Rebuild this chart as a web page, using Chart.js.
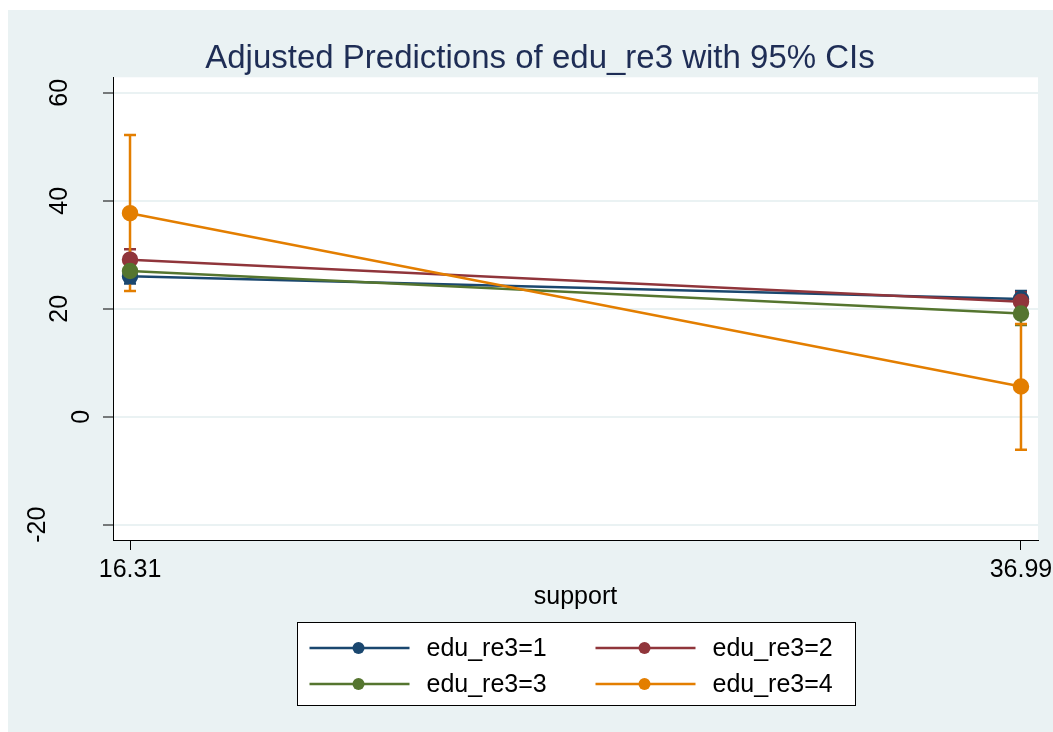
<!DOCTYPE html>
<html lang="en">
<head>
<meta charset="UTF-8">
<title>Adjusted Predictions of edu_re3 with 95% CIs</title>
<script src="https://cdn.jsdelivr.net/npm/chart.js"></script>
<style>
  html, body { margin: 0; padding: 0; background: #fff; }
  #wrap { width: 1053px; height: 732px; }
</style>
</head>
<body>
<div id="wrap"><canvas id="grafico"></canvas></div>
<script>
// valores
const supportVals = [16.31, 36.99];
const xTicks = [16.31, 36.99];
const yTicks = [-20, 0, 20, 40, 60];
const seriesNames = ["edu_re3=1", "edu_re3=2", "edu_re3=3", "edu_re3=4"];

const edu1 = [26.0, 21.8];
const edu1Lo = [24.7, 20.3];
const edu1Hi = [27.4, 23.3];

const edu2 = [29.1, 21.3];
const edu2Lo = [27.2, 19.6];
const edu2Hi = [31.0, 23.0];

const edu3 = [27.0, 19.1];
const edu3Lo = [25.3, 17.0];
const edu3Hi = [28.7, 21.2];

const edu4 = [37.7, 5.6];
const edu4Lo = [23.3, -6.1];
const edu4Hi = [52.2, 17.2];

const values = [edu1, edu2, edu3, edu4];
const lows = [edu1Lo, edu2Lo, edu3Lo, edu4Lo];
const highs = [edu1Hi, edu2Hi, edu3Hi, edu4Hi];
const colors = ["#1a476f", "#90353b", "#55752f", "#e37e00"];

const FONT = '"Liberation Sans", Arial, Helvetica, sans-serif';
Chart.defaults.font.family = FONT;
Chart.defaults.color = "#000";

// fundo cinza-azulado e área do gráfico branca
const fundo = {
  id: "fundo",
  beforeDraw(chart) {
    const { ctx, width, height, chartArea: a } = chart;
    ctx.save();
    ctx.fillStyle = "#ffffff";
    ctx.fillRect(0, 0, width, height);
    ctx.fillStyle = "#eaf2f3";
    ctx.fillRect(8, 10, width - 8, height - 10);
    ctx.fillStyle = "#ffffff";
    ctx.fillRect(a.left, a.top, a.right - a.left, a.bottom - a.top);
    ctx.restore();
  }
};

// intervalos de confiança (desenhados por baixo das linhas)
const intervalos = {
  id: "intervalos",
  beforeDatasetsDraw(chart) {
    const { ctx } = chart;
    const xs = chart.scales.x, ys = chart.scales.y;
    ctx.save();
    ctx.lineWidth = 2.5;
    for (let i = 0; i < values.length; i++) {
      ctx.strokeStyle = colors[i];
      for (let j = 0; j < supportVals.length; j++) {
        const px = xs.getPixelForValue(supportVals[j]);
        const yLo = ys.getPixelForValue(lows[i][j]);
        const yHi = ys.getPixelForValue(highs[i][j]);
        ctx.beginPath();
        ctx.moveTo(px, yLo); ctx.lineTo(px, yHi);
        ctx.moveTo(px - 6, yLo); ctx.lineTo(px + 6, yLo);
        ctx.moveTo(px - 6, yHi); ctx.lineTo(px + 6, yHi);
        ctx.stroke();
      }
    }
    ctx.restore();
  }
};

// rótulos verticais do eixo y
const rotulosY = {
  id: "rotulosY",
  afterDraw(chart) {
    const { ctx } = chart;
    const ys = chart.scales.y;
    ctx.save();
    ctx.font = "25px " + FONT;
    ctx.fillStyle = "#000";
    ctx.textAlign = "center";
    ctx.textBaseline = "middle";
    yTicks.forEach(v => {
      const txt = String(v);
      const y = ys.getPixelForValue(v);
      const cx = 104 - 22 * txt.length;
      ctx.save();
      ctx.translate(cx, y);
      ctx.rotate(-Math.PI / 2);
      ctx.fillText(txt, 0, 0);
      ctx.restore();
    });
    ctx.restore();
  }
};

// legenda em caixa, duas colunas
const legenda = {
  id: "legenda",
  afterDraw(chart) {
    const { ctx, chartArea: a } = chart;
    const cx = (a.left + a.right) / 2;
    const w = 558, top = 622, h = 83;
    const left = Math.round(cx - w / 2) + 0.5;
    ctx.save();
    ctx.fillStyle = "#fff";
    ctx.fillRect(left, top + 0.5, w, h);
    ctx.strokeStyle = "#000";
    ctx.lineWidth = 1;
    ctx.strokeRect(left, top + 0.5, w, h);
    ctx.font = "25px " + FONT;
    ctx.textBaseline = "middle";
    ctx.textAlign = "left";
    chart.data.datasets.forEach((ds, i) => {
      const col = i % 2, row = Math.floor(i / 2);
      const x0 = left + 12 + col * 286;
      const y = top + 26 + row * 36;
      ctx.strokeStyle = ds.borderColor;
      ctx.lineWidth = 2.5;
      ctx.beginPath();
      ctx.moveTo(x0, y); ctx.lineTo(x0 + 100, y);
      ctx.stroke();
      ctx.fillStyle = ds.borderColor;
      ctx.beginPath();
      ctx.arc(x0 + 49, y, 6, 0, Math.PI * 2);
      ctx.fill();
      ctx.fillStyle = "#000";
      ctx.fillText(ds.label, x0 + 117, y + 1);
    });
    ctx.restore();
  }
};

const datasets = values.map((arr, i) => ({
  label: seriesNames[i],
  data: supportVals.map((x, j) => ({ x: x, y: arr[j] })),
  borderColor: colors[i],
  backgroundColor: colors[i],
  pointBackgroundColor: colors[i],
  pointBorderColor: colors[i],
  borderWidth: 2.5,
  pointRadius: 7,
  pointHoverRadius: 7,
  tension: 0,
  order: values.length - i
}));

new Chart(document.getElementById("grafico"), {
  type: "line",
  data: { datasets: datasets },
  options: {
    responsive: true,
    maintainAspectRatio: false,
    animation: false,
    events: [],
    layout: { padding: { top: 0, left: 42, right: 15, bottom: 112 } },
    plugins: {
      legend: { display: false },
      tooltip: { enabled: false },
      title: {
        display: true,
        text: "Adjusted Predictions of edu_re3 with 95% CIs",
        color: "#1e2d55",
        font: { size: 33, weight: "normal", lineHeight: 1.1 },
        padding: { top: 41, bottom: 0 }
      }
    },
    scales: {
      x: {
        type: "linear",
        min: 15.915,
        max: 37.385,
        afterBuildTicks: s => { s.ticks = xTicks.map(v => ({ value: v })); },
        afterFit: s => { s.height = 80; s.paddingLeft = 0; s.paddingRight = 0; },
        ticks: {
          font: { size: 25 },
          color: "#000",
          padding: 5,
          maxRotation: 0,
          callback: v => v.toFixed(2)
        },
        grid: { drawOnChartArea: false, drawTicks: true, tickLength: 10, tickColor: "#000", tickWidth: 1 },
        border: { color: "#000", width: 1 },
        title: {
          display: true,
          text: "support",
          font: { size: 25 },
          color: "#000",
          padding: { top: 0, bottom: 8 }
        }
      },
      y: {
        type: "linear",
        min: -22.83,
        max: 62.87,
        afterBuildTicks: s => { s.ticks = yTicks.map(v => ({ value: v })); },
        afterFit: s => { s.width = 71; s.paddingTop = 0; s.paddingBottom = 0; },
        ticks: { display: false },
        grid: { color: "#eaf2f3", lineWidth: 2, drawTicks: true, tickLength: 10, tickColor: "#000", tickWidth: 1 },
        border: { color: "#000", width: 1 }
      }
    }
  },
  plugins: [fundo, intervalos, rotulosY, legenda]
});
</script>
</body>
</html>
